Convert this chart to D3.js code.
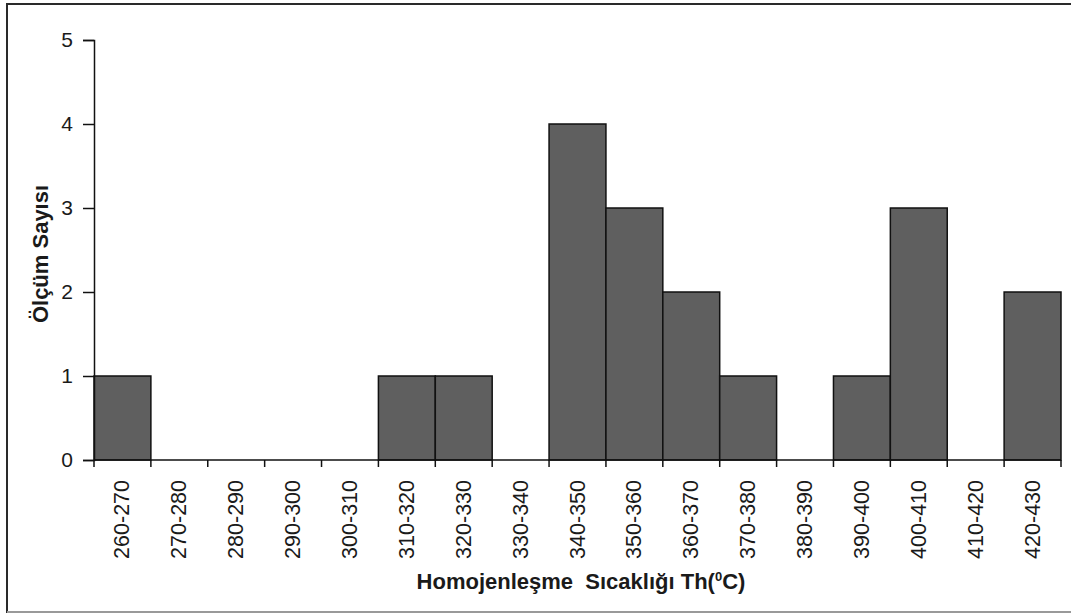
<!DOCTYPE html>
<html>
<head>
<meta charset="utf-8">
<script src="https://cdn.jsdelivr.net/npm/d3@7"></script>
<style>
  body { margin: 0; background: #fff; }
  svg { display: block; font-family: "Liberation Sans", Arial, sans-serif; }
</style>
</head>
<body>
<div id="chart"></div>
<script>
// Bins and counts
const bins = ["260-270", "270-280", "280-290", "290-300", "300-310", "310-320", "320-330",
    "330-340", "340-350", "350-360", "360-370", "370-380", "380-390", "390-400",
    "400-410", "410-420", "420-430"];
const counts = [1, 0, 0, 0, 0, 1, 1, 0, 4, 3, 2, 1, 0, 1, 3, 0, 2];
const yTicks = [0, 1, 2, 3, 4, 5];

const W = 1071, H = 613;
const margin = { top: 40, right: 10, bottom: 153, left: 94 };
const width = W - margin.left - margin.right;
const height = H - margin.top - margin.bottom;

const svg = d3.select("#chart")
    .append("svg")
    .attr("width", W)
    .attr("height", H);

// outer frame
svg.append("rect")
    .attr("x", 7)
    .attr("y", 4)
    .attr("width", W + 20)
    .attr("height", 608)
    .attr("fill", "none")
    .attr("stroke", "#2a2a2a")
    .attr("stroke-width", 2);
svg.append("line")
    .attr("x1", 7).attr("x2", W)
    .attr("y1", 612).attr("y2", 612)
    .attr("stroke", "#999")
    .attr("stroke-width", 2);

const g = svg.append("g")
    .attr("transform", `translate(${margin.left},${margin.top})`);

const x = d3.scaleBand()
    .domain(bins)
    .range([0, width])
    .padding(0);

const y = d3.scaleLinear()
    .domain([0, 5])
    .range([height, 0]);

// bars
g.selectAll(".bar")
    .data(bins.map((b, i) => ({ bin: b, count: counts[i] })).filter(d => d.count > 0))
    .enter()
    .append("rect")
    .attr("class", "bar")
    .attr("x", d => x(d.bin))
    .attr("width", x.bandwidth())
    .attr("y", d => y(d.count))
    .attr("height", d => height - y(d.count))
    .attr("fill", "#5f5f5f")
    .attr("stroke", "#111")
    .attr("stroke-width", 1.5);

// y axis
const yAxis = g.append("g")
    .call(d3.axisLeft(y).tickValues(yTicks).tickFormat(d3.format("d")).tickSize(11).tickPadding(10));
yAxis.select(".domain").attr("stroke", "#111").attr("stroke-width", 1.5);
yAxis.selectAll(".tick line").attr("stroke", "#111").attr("stroke-width", 1.5);
yAxis.selectAll("text")
    .attr("font-size", 21)
    .attr("fill", "#1a1a1a")
    .attr("font-family", "Liberation Sans, Arial, sans-serif");

// x axis with ticks at bin edges
const xAxis = g.append("g")
    .attr("transform", `translate(0,${height})`);
xAxis.append("line")
    .attr("x1", 0).attr("x2", width)
    .attr("y1", 0).attr("y2", 0)
    .attr("stroke", "#111")
    .attr("stroke-width", 1.5);
xAxis.selectAll(".edge")
    .data(bins.concat(["end"]))
    .enter()
    .append("line")
    .attr("x1", (d, i) => i < bins.length ? x(d) : width)
    .attr("x2", (d, i) => i < bins.length ? x(d) : width)
    .attr("y1", 0).attr("y2", 7)
    .attr("stroke", "#111")
    .attr("stroke-width", 1.5);
xAxis.selectAll(".lbl")
    .data(bins)
    .enter()
    .append("text")
    .attr("transform", d => `translate(${x(d) + x.bandwidth() / 2 + 7},20) rotate(-90)`)
    .attr("text-anchor", "end")
    .attr("font-size", 21.5)
    .attr("fill", "#1a1a1a")
    .text(d => d);

// axis titles
const xt = svg.append("text")
    .attr("x", 581)
    .attr("y", 589)
    .attr("text-anchor", "middle")
    .attr("font-size", 22)
    .attr("font-weight", "bold")
    .attr("fill", "#1a1a1a")
    .attr("xml:space", "preserve");
xt.append("tspan").text("Homojenleşme  Sıcaklığı Th(");
xt.append("tspan").attr("font-size", 13).attr("dy", -8).text("0");
xt.append("tspan").attr("dy", 8).text("C)");

svg.append("text")
    .attr("transform", "translate(48,254) rotate(-90)")
    .attr("text-anchor", "middle")
    .attr("font-size", 22)
    .attr("font-weight", "bold")
    .attr("fill", "#1a1a1a")
    .text("Ölçüm Sayısı");
</script>
</body>
</html>
